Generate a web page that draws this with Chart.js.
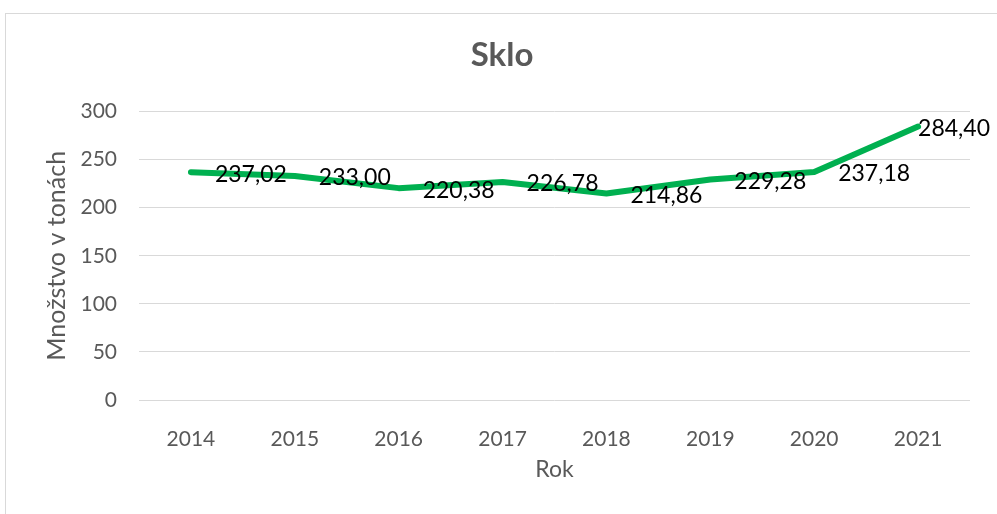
<!DOCTYPE html>
<html>
<head>
<meta charset="utf-8">
<script src="https://cdn.jsdelivr.net/npm/chart.js@4/dist/chart.umd.min.js"></script>
<style>
  html, body { margin: 0; padding: 0; background: #fff; }
  #wrap { width: 997px; height: 514px; }
</style>
</head>
<body>
<div id="wrap"><canvas id="chart"></canvas></div>
<script>
// chart data
const years = ["2014", "2015", "2016", "2017", "2018", "2019", "2020", "2021"];
const amounts = [237.02, 233.0, 220.38, 226.78, 214.86, 229.28, 237.18, 284.4];
const yTicks = [0, 50, 100, 150, 200, 250, 300];

const GREY = "#595959";
const GRID = "#d9d9d9";

// formats 237.02 -> "237,02"
function fmt(v) {
  return v.toFixed(2).replace(".", ",");
}

// outer chart frame, like the Excel chart border
const framePlugin = {
  id: "frame",
  beforeDraw(chart) {
    const ctx = chart.ctx;
    ctx.save();
    ctx.fillStyle = "#fff";
    ctx.fillRect(0, 0, chart.width, chart.height);
    ctx.strokeStyle = GRID;
    ctx.lineWidth = 1;
    ctx.strokeRect(5.5, 13.5, chart.width + 20, chart.height + 20);
    ctx.restore();
  },
};

// value labels to the right of each point
const labelPlugin = {
  id: "valueLabels",
  afterDatasetsDraw(chart) {
    const ctx = chart.ctx;
    const meta = chart.getDatasetMeta(0);
    ctx.save();
    ctx.font = "23px Lato";
    ctx.fillStyle = "#000";
    ctx.textAlign = "left";
    ctx.textBaseline = "middle";
    meta.data.forEach((pt, i) => {
      const text = fmt(amounts[i]);
      const w = ctx.measureText(text).width;
      let x = pt.x + 24;
      if (x + w > 990) x = 990 - w;
      ctx.fillText(text, x, pt.y + 2);
    });
    ctx.restore();
  },
};

new Chart(document.getElementById("chart"), {
  type: "line",
  data: {
    labels: years,
    datasets: [
      {
        data: amounts,
        borderColor: "#00b050",
        borderWidth: 6,
        borderCapStyle: "round",
        borderJoinStyle: "round",
        pointRadius: 0,
        tension: 0,
        fill: false,
      },
    ],
  },
  options: {
    responsive: true,
    maintainAspectRatio: false,
    animation: false,
    layout: {
      padding: { top: 0, left: 7, right: 0, bottom: 0 },
    },
    plugins: {
      legend: { display: false },
      tooltip: { enabled: false },
      title: {
        display: true,
        text: "Sklo",
        color: GREY,
        font: { family: "Lato", size: 33, weight: "bold", lineHeight: 1.2 },
        padding: { top: 36, bottom: 36 },
      },
    },
    scales: {
      x: {
        offset: true,
        grid: { display: false },
        border: { display: false },
        ticks: {
          color: GREY,
          font: { family: "Lato", size: 21 },
          padding: 19,
          maxRotation: 0,
        },
        title: {
          display: true,
          text: "Rok",
          color: GREY,
          font: { family: "Lato", size: 23, lineHeight: 1.2 },
          padding: { top: 0, bottom: 31 },
        },
        afterFit(scale) {
          scale.height = 114;
        },
      },
      y: {
        min: 0,
        max: 300,
        afterBuildTicks(scale) {
          scale.ticks = yTicks.map((v) => ({ value: v }));
        },
        grid: { color: GRID, lineWidth: 1, drawTicks: false },
        border: { display: false },
        ticks: {
          color: GREY,
          font: { family: "Lato", size: 21 },
          padding: 22,
        },
        title: {
          display: true,
          text: "Množstvo v tonách",
          color: GREY,
          font: { family: "Lato", size: 25, lineHeight: 1.2 },
          padding: { top: 35, bottom: 0 },
        },
        afterFit(scale) {
          scale.width = 132;
        },
      },
      // empty right-hand gap so the title centres like the original
      gap: {
        position: "right",
        min: 0,
        max: 1,
        grid: { display: false },
        border: { display: false },
        ticks: { display: false },
        afterFit(scale) {
          scale.width = 27;
        },
      },
    },
  },
  plugins: [framePlugin, labelPlugin],
});
</script>
</body>
</html>
